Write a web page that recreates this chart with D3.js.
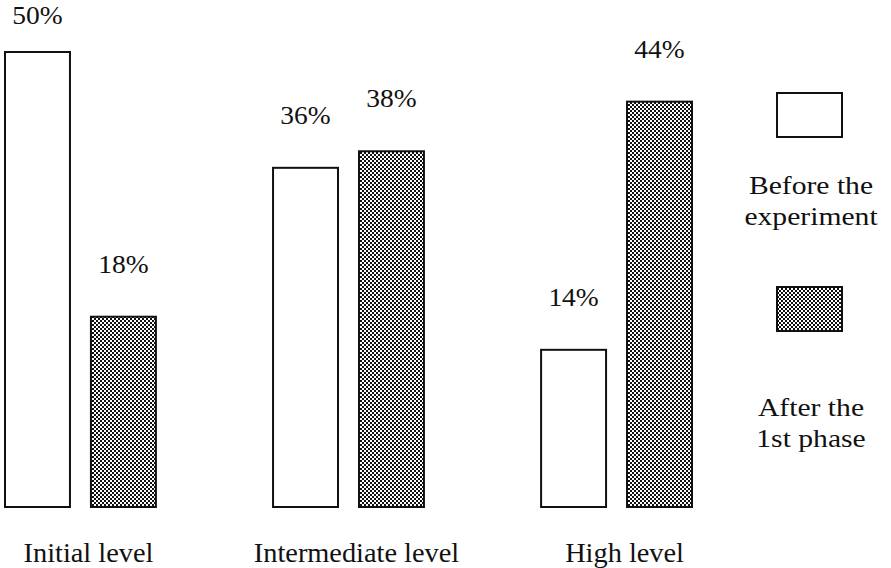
<!DOCTYPE html>
<html>
<head>
<meta charset="utf-8">
<script src="https://cdn.jsdelivr.net/npm/d3@7"></script>
<style>
  body { margin: 0; background: #fff; }
  text { font-family: "Liberation Serif", "Times New Roman", serif; fill: #111; }
</style>
</head>
<body>
<svg id="chart" width="891" height="568"></svg>
<script>
// data
const levels = ["Initial level", "Intermediate level", "High level"];
const series = ["Before the experiment", "After the 1st phase"];
const beforeValues = [50, 36, 14];
const afterValues = [18, 38, 44];
const legendLines = [["Before the", "experiment"], ["After the", "1st phase"]];

const svg = d3.select("svg#chart");
const baseY = 507;

const rows = [];
levels.forEach((lvl, i) => {
  rows.push({ level: lvl, serie: series[0], value: beforeValues[i] });
  rows.push({ level: lvl, serie: series[1], value: afterValues[i] });
});

// dotted grey fill like the printed halftone
const defs = svg.append("defs");
const pat = defs
  .append("pattern")
  .attr("id", "dots")
  .attr("patternUnits", "userSpaceOnUse")
  .attr("width", 4)
  .attr("height", 4);
pat.append("rect").attr("width", 4).attr("height", 4).attr("fill", "#fff");
pat.append("rect").attr("x", 0).attr("y", 0).attr("width", 2).attr("height", 2).attr("fill", "#111");
pat.append("rect").attr("x", 2).attr("y", 2).attr("width", 2).attr("height", 2).attr("fill", "#111");

const fills = { [series[0]]: "#fff", [series[1]]: "url(#dots)" };

const x0 = d3.scaleBand().domain(levels).range([5, 692]).paddingInner(0.437).paddingOuter(0);
const x1 = d3.scaleBand().domain(series).range([0, x0.bandwidth()]).paddingInner(0.244);
const y = d3.scaleLinear().domain([-5, 50]).range([baseY, 52]);

const bars = svg.append("g").attr("class", "bars");
bars
  .selectAll("rect.bar")
  .data(rows)
  .join("rect")
  .attr("class", "bar")
  .attr("x", (d) => x0(d.level) + x1(d.serie))
  .attr("y", (d) => y(d.value))
  .attr("width", x1.bandwidth())
  .attr("height", (d) => baseY - y(d.value))
  .attr("fill", (d) => fills[d.serie])
  .attr("stroke", "#111")
  .attr("stroke-width", 2);

// value labels above the bars
bars
  .selectAll("text.value")
  .data(rows)
  .join("text")
  .attr("class", "value")
  .attr("text-anchor", "middle")
  .attr("font-size", 25)
  .attr("transform", (d) => {
    const cx = x0(d.level) + x1(d.serie) + x1.bandwidth() / 2;
    const ty = Math.max(y(d.value) - 44, 24);
    return `translate(${cx},${ty}) scale(1.1,1)`;
  })
  .text((d) => d.value + "%");

// category labels
svg
  .append("g")
  .selectAll("text.cat")
  .data(levels)
  .join("text")
  .attr("class", "cat")
  .attr("text-anchor", "middle")
  .attr("font-size", 27)
  .attr("transform", (d) => `translate(${x0(d) + x0.bandwidth() / 2 + 8},${562}) scale(1.05,1)`)
  .text((d) => d);

// legend on the right
const legend = svg.append("g").attr("class", "legend").attr("transform", "translate(777,0)");
const legendTop = [93, 287];
const legendTextY = [194, 416];
series.forEach((s, i) => {
  legend
    .append("rect")
    .attr("x", 0)
    .attr("y", legendTop[i])
    .attr("width", 65)
    .attr("height", 44)
    .attr("fill", fills[s])
    .attr("stroke", "#111")
    .attr("stroke-width", 2);
  legendLines[i].forEach((line, j) => {
    legend
      .append("text")
      .attr("text-anchor", "middle")
      .attr("font-size", 26)
      .attr("transform", `translate(${34},${legendTextY[i] + j * 31}) scale(1.14,1)`)
      .text(line);
  });
});
</script>
</body>
</html>
